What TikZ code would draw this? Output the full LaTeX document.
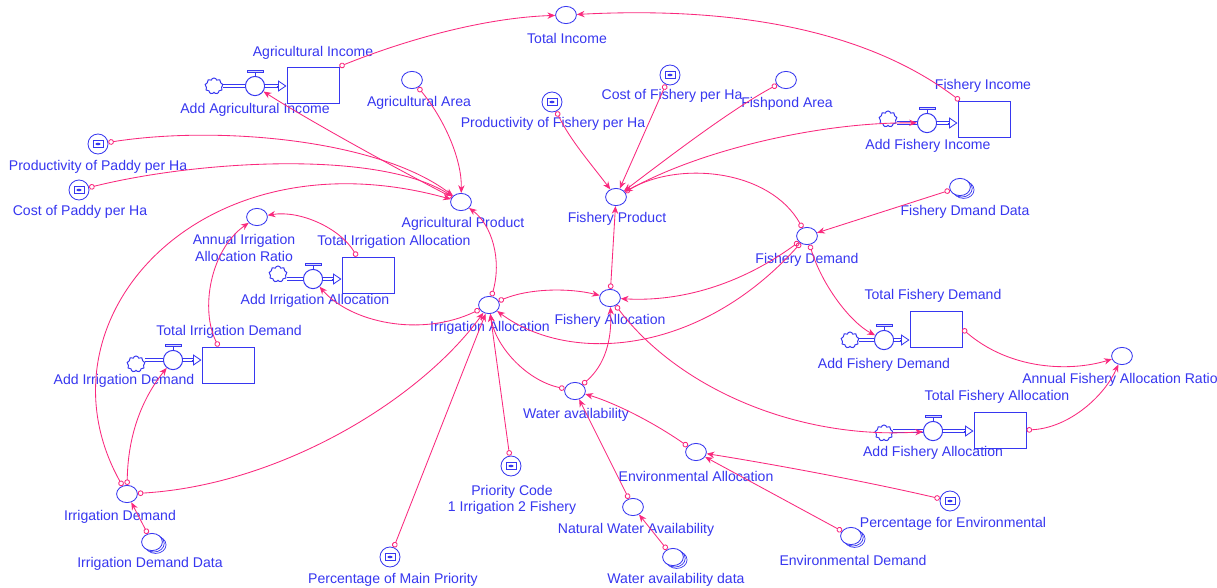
\documentclass[tikz,border=0pt]{standalone}
\usepackage{fontspec}
\setmainfont{Liberation Sans}
\usetikzlibrary{shapes.geometric, shapes.symbols, arrows.meta, calc, shadows}
\definecolor{vblue}{RGB}{55, 55, 240}
\definecolor{vpink}{RGB}{250, 40, 125}

\begin{document}
\begin{tikzpicture}[
    x=0.025cm, y=-0.025cm,
    lbl/.style={text=vblue, font=\fontsize{10}{11.5}\selectfont, inner sep=0pt, align=center},
    aux/.style={ellipse, draw=vblue, line width=0.6pt, fill=white, minimum width=0.52cm, minimum height=0.43cm, inner sep=0pt},
    constant/.style={circle, draw=vblue, line width=0.6pt, fill=white, minimum size=0.5cm, inner sep=0pt,
        path picture={
            \draw[vblue, line width=0.5pt] ([shift={(-3.6pt,-2.3pt)}]path picture bounding box.center) rectangle ([shift={(3.6pt,2.3pt)}]path picture bounding box.center);
            \fill[vblue] (path picture bounding box.center) ellipse [x radius=1.8pt, y radius=0.9pt];}},
    datavar/.style={aux, double copy shadow={shadow xshift=1.3pt, shadow yshift=-1pt, draw=vblue, fill=white, line width=0.5pt}},
    stock/.style={rectangle, draw=vblue, line width=0.7pt, minimum width=1.3cm, minimum height=0.9cm},
    valve/.style={circle, draw=vblue, line width=0.7pt, fill=white, minimum size=0.48cm, inner sep=0pt},
    cloudsrc/.style={cloud, cloud puffs=9, aspect=1.1, draw=vblue, line width=0.7pt, minimum width=0.45cm, minimum height=0.4cm, inner sep=0pt},
    pipe/.style={draw=vblue, line width=0.5pt, double=white, double distance=1.5pt},
    link/.style={draw=vpink, line width=0.6pt, {Circle[open,length=4pt,width=4pt]}-{Stealth[length=5.5pt,width=4.5pt]}},
]
    \fill[white] (0,0) rectangle (1217,587);
    \useasboundingbox (0,0) rectangle (1217,587);

    % Income
    \node[aux] (totinc) at (566,15) {};
    \node[lbl] (totinc-l) at (567,38) {Total Income};
    \node[stock] (agrinc) at (313,85) {};
    \node[lbl] (agrinc-l) at (313,53) {Agricultural Income};
    \node[valve] (addagr) at (255,86) {};
    \node[cloudsrc] (cagr) at (214,86) {};
    \node[lbl] (addagr-l) at (255,110) {Add Agricultural Income};
    \node[stock] (fishinc) at (984,119) {};
    \node[lbl] (fishinc-l) at (983,86) {Fishery Income};
    \node[valve] (addfishinc) at (927,123) {};
    \node[cloudsrc] (cfishinc) at (888,119) {};
    \node[lbl] (addfishinc-l) at (928,146) {Add Fishery Income};

    % Agricultural product
    \node[aux] (agrarea) at (412,80) {};
    \node[lbl] (agrarea-l) at (419,103) {Agricultural Area};
    \node[constant] (prodpaddy) at (98,144) {};
    \node[lbl] (prodpaddy-l) at (98,167) {Productivity of Paddy per Ha};
    \node[constant] (costpaddy) at (79,190) {};
    \node[lbl] (costpaddy-l) at (80,212) {Cost of Paddy per Ha};
    \node[aux] (agrprod) at (461,202) {};
    \node[lbl] (agrprod-l) at (463,224) {Agricultural Product};

    % Fishery product
    \node[constant] (prodfish) at (552,102) {};
    \node[lbl] (prodfish-l) at (553,124) {Productivity of Fishery per Ha};
    \node[constant] (costfish) at (670,75) {};
    \node[lbl] (costfish-l) at (672,96) {Cost of Fishery per Ha};
    \node[aux] (fishpond) at (786,80) {};
    \node[lbl] (fishpond-l) at (787,104) {Fishpond Area};
    \node[aux] (fishprod) at (616,197) {};
    \node[lbl] (fishprod-l) at (617,219) {Fishery Product};

    % Fishery demand
    \node[datavar] (fishdata) at (960,187) {};
    \node[lbl] (fishdata-l) at (965,212) {Fishery Dmand Data};
    \node[aux] (fishdem) at (807,236) {};
    \node[lbl] (fishdem-l) at (807,260) {Fishery Demand};
    \node[stock] (totfishdem) at (936,329) {};
    \node[lbl] (totfishdem-l) at (933,296) {Total Fishery Demand};
    \node[valve] (addfishdem) at (884,340) {};
    \node[cloudsrc] (cfishdem) at (850,340) {};
    \node[lbl] (addfishdem-l) at (884,365) {Add Fishery Demand};

    % Fishery allocation
    \node[aux] (fishalloc) at (610,298) {};
    \node[lbl] (fishalloc-l) at (610,321) {Fishery Allocation};
    \node[stock] (totfishalloc) at (1000,430) {};
    \node[lbl] (totfishalloc-l) at (997,397) {Total Fishery Allocation};
    \node[valve] (addfishalloc) at (933,431) {};
    \node[cloudsrc] (cfishalloc) at (884,433) {};
    \node[lbl] (addfishalloc-l) at (933,453) {Add Fishery Allocation};
    \node[aux] (annfish) at (1122,356) {};
    \node[lbl, anchor=west] (annfish-l) at (1022,380) {Annual Fishery Allocation Ratio};

    % Irrigation
    \node[aux] (annirr) at (257,217) {};
    \node[lbl] (annirr-l) at (244,248) {Annual Irrigation\\Allocation Ratio};
    \node[stock] (totirralloc) at (368,275) {};
    \node[lbl] (totirralloc-l) at (394,242) {Total Irrigation Allocation};
    \node[valve] (addirralloc) at (313,279) {};
    \node[cloudsrc] (cirralloc) at (278,274) {};
    \node[lbl] (addirralloc-l) at (315,301) {Add Irrigation Allocation};
    \node[stock] (totirrdem) at (228,365) {};
    \node[lbl] (totirrdem-l) at (229,332) {Total Irrigation Demand};
    \node[valve] (addirrdem) at (173,360) {};
    \node[cloudsrc] (cirrdem) at (136,364) {};
    \node[lbl] (addirrdem-l) at (124,381) {Add Irrigation Demand};
    \node[aux] (irralloc) at (489,305) {};
    \node[lbl] (irralloc-l) at (490,328) {Irrigation Allocation};
    \node[aux] (irrdem) at (127,494) {};
    \node[lbl] (irrdem-l) at (120,517) {Irrigation Demand};
    \node[datavar] (irrdata) at (152,542) {};
    \node[lbl] (irrdata-l) at (150,564) {Irrigation Demand Data};
    \node[constant] (priority) at (511,466) {};
    \node[lbl] (priority-l) at (512,500) {Priority Code\\1 Irrigation 2 Fishery};
    \node[constant] (pctmain) at (390,557) {};
    \node[lbl] (pctmain-l) at (393,580) {Percentage of Main Priority};

    % Water
    \node[aux] (wateravail) at (575,391) {};
    \node[lbl] (wateravail-l) at (576,415) {Water availability};
    \node[aux] (envalloc) at (696,452) {};
    \node[lbl] (envalloc-l) at (696,476) {Environmental Allocation};
    \node[aux] (natwater) at (633,507) {};
    \node[lbl] (natwater-l) at (636,530) {Natural Water Availability};
    \node[datavar] (waterdata) at (673,557) {};
    \node[lbl] (waterdata-l) at (676,580) {Water availability data};
    \node[datavar] (envdem) at (851,536) {};
    \node[lbl] (envdem-l) at (853,560) {Environmental Demand};
    \node[constant] (pctenv) at (950,501) {};
    \node[lbl] (pctenv-l) at (953,524) {Percentage for Environmental};

    % flows: valve handles and pipes
    \foreach \vlv in {addagr, addfishinc, addirralloc, addirrdem, addfishdem, addfishalloc}{
        \draw[vblue, line width=0.6pt] (\vlv.north) -- ++(0,-3);
        \draw[vblue, line width=0.6pt, fill=vblue!20] ($(\vlv.north)+(-8,-3)$) rectangle ($(\vlv.north)+(8,-5.5)$);
    }
    \foreach \src/\vlv/\stk in {cagr/addagr/agrinc, cfishinc/addfishinc/fishinc, cirralloc/addirralloc/totirralloc,
        cirrdem/addirrdem/totirrdem, cfishdem/addfishdem/totfishdem, cfishalloc/addfishalloc/totfishalloc}{
        \draw[pipe] (\src.east |- \vlv) -- (\vlv.west);
        \draw[pipe] (\vlv.east) -- ($(\stk.west |- \vlv)+(-8,0)$);
        \draw[vblue, line width=0.6pt, -{Triangle[open,length=6pt,width=8pt]}] ($(\stk.west |- \vlv)+(-10,0)$) -- (\stk.west |- \vlv);
    }

    % links: income
    \draw[link] (agrinc.north east) .. controls (400,42) and (480,18) .. (totinc);
    \draw[link] (fishinc) .. controls (880,40) and (760,5) .. (totinc);
    \draw[link] (agrprod) .. controls (380,160) and (300,115) .. (addagr);
    \draw[link] (fishprod) .. controls (700,150) and (820,122) .. (addfishinc);

    % links: agricultural product
    \draw[link] (agrarea) .. controls (445,120) and (462,160) .. (agrprod);
    \draw[link] (prodpaddy) .. controls (220,125) and (380,140) .. (agrprod);
    \draw[link] (costpaddy) .. controls (200,160) and (380,150) .. (agrprod);
    \draw[link] (irrdem) .. controls (30,320) and (200,130) .. (agrprod);
    \draw[link] (irralloc) .. controls (502,260) and (492,225) .. (agrprod);

    % links: fishery
    \draw[link] (prodfish) .. controls (570,140) and (592,165) .. (fishprod);
    \draw[link] (costfish) -- (fishprod);
    \draw[link] (fishpond) .. controls (730,110) and (665,160) .. (fishprod);
    \draw[link] (fishalloc) -- (fishprod);
    \draw[link] (fishdem) .. controls (770,170) and (680,160) .. (fishprod);
    \draw[link] (fishdata) -- (fishdem);
    \draw[link] (fishdem) .. controls (740,285) and (680,302) .. (fishalloc);
    \draw[link] (fishdem) .. controls (700,355) and (570,365) .. (irralloc);
    \draw[link] (fishdem) .. controls (822,285) and (850,322) .. (addfishdem);
    \draw[link] (fishalloc) .. controls (680,390) and (800,440) .. (addfishalloc);
    \draw[link] (totfishdem.east) .. controls (1010,370) and (1070,372) .. (annfish);
    \draw[link] (totfishalloc.east) .. controls (1070,428) and (1105,395) .. (annfish);

    % links: irrigation
    \draw[link] (totirralloc) .. controls (340,228) and (300,210) .. (annirr);
    \draw[link] (totirrdem) .. controls (200,310) and (210,250) .. (annirr);
    \draw[link] (irralloc) .. controls (420,338) and (350,322) .. (addirralloc);
    \draw[link] (irrdem) .. controls (128,430) and (145,395) .. (addirrdem);
    \draw[link] (irrdem) .. controls (280,485) and (420,400) .. (irralloc);
    \draw[link] (irrdata) -- (irrdem);
    \draw[link] (pctmain) -- (irralloc);
    \draw[link] (priority) -- (irralloc);
    \draw[link] (irralloc) .. controls (530,288) and (570,288) .. (fishalloc);

    % links: water
    \draw[link] (wateravail) .. controls (525,380) and (495,345) .. (irralloc);
    \draw[link] (wateravail) .. controls (605,365) and (612,340) .. (fishalloc);
    \draw[link] (envalloc) .. controls (650,420) and (612,402) .. (wateravail);
    \draw[link] (natwater) -- (wateravail);
    \draw[link] (waterdata) -- (natwater);
    \draw[link] (envdem) -- (envalloc);
    \draw[link] (pctenv) .. controls (860,480) and (760,462) .. (envalloc);
\end{tikzpicture}
\end{document}
